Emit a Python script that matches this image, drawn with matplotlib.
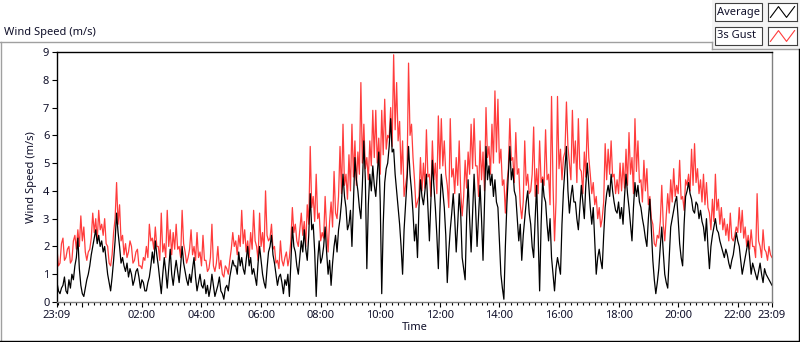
import numpy as np
import pandas as pd
import matplotlib
matplotlib.use('Agg')
import matplotlib.pyplot as plt
import matplotlib.dates as mdates
from matplotlib.lines import Line2D
from matplotlib.patches import Rectangle

W, H = 800, 342
START = '2024-06-01 23:09'
STEP = '3min'

# 3 s gust (m/s), one row per hour after 23:09
gust = [
    1.9, 1.3, 1.4, 2.1, 2.3, 1.5, 1.6, 1.9, 2.0, 1.4, 1.5, 2.2, 2.4, 1.9, 2.6, 2.0, 3.1, 2.2, 2.7, 1.8,
    1.5, 1.8, 1.9, 2.3, 3.2, 2.5, 3.0, 2.2, 3.3, 2.6, 2.8, 2.4, 3.0, 2.1, 2.0, 1.4, 1.3, 1.7, 2.5, 3.0,
    4.3, 2.8, 3.5, 2.2, 2.4, 1.7, 2.1, 1.6, 1.8, 2.2, 2.0, 1.4, 1.5, 1.8, 1.9, 1.3, 1.3, 1.2, 1.6, 1.5,
    2.0, 1.6, 2.8, 2.2, 2.3, 1.9, 2.7, 2.0, 2.0, 1.5, 3.2, 1.8, 2.1, 1.6, 3.3, 2.0, 2.6, 1.7, 2.5, 1.9,
    2.8, 1.9, 2.0, 1.6, 3.3, 2.1, 1.8, 1.4, 1.6, 1.9, 2.6, 1.7, 2.0, 1.5, 2.5, 1.6, 1.8, 1.3, 2.4, 1.5,
    1.5, 1.1, 1.2, 1.6, 2.8, 1.3, 1.1, 1.4, 2.0, 1.2, 1.5, 1.0, 0.9, 1.3, 1.2, 1.0, 1.5, 1.9, 2.5, 2.0,
    2.2, 1.7, 2.4, 2.0, 3.3, 2.1, 2.6, 1.8, 2.2, 1.6, 2.5, 1.9, 3.3, 2.2, 2.0, 1.5, 3.2, 2.0, 2.5, 1.8,
    4.0, 2.4, 2.2, 2.3, 2.8, 1.9, 2.0, 1.4, 1.5, 1.2, 2.2, 1.5, 1.3, 1.6, 1.8, 1.3, 1.6, 2.2, 3.4, 2.5,
    2.8, 2.2, 2.0, 2.6, 3.2, 2.4, 2.9, 2.0, 3.5, 2.8, 5.6, 3.4, 3.8, 2.9, 4.6, 3.0, 3.2, 2.2, 2.5, 2.3,
    3.8, 2.6, 1.8, 2.9, 3.6, 2.7, 4.7, 3.2, 3.0, 3.8, 5.6, 3.9, 6.4, 4.2, 4.6, 3.7, 5.3, 4.0, 6.4, 4.5,
    5.8, 4.2, 5.4, 4.6, 7.9, 5.0, 6.4, 4.8, 5.2, 4.4, 5.8, 4.9, 6.9, 5.2, 6.9, 5.0, 5.9, 4.6, 6.9, 5.3,
    7.3, 5.5, 6.0, 5.9, 7.0, 5.6, 8.9, 6.2, 7.9, 5.8, 6.5, 4.6, 5.8, 3.8, 4.2, 4.6, 8.6, 6.0, 6.4, 5.2,
    4.4, 3.4, 3.6, 3.8, 5.2, 4.0, 5.0, 4.1, 6.2, 4.5, 4.6, 3.8, 5.8, 4.4, 5.0, 3.9, 6.7, 4.8, 6.6, 4.9,
    5.8, 4.6, 4.2, 3.4, 6.6, 4.5, 4.8, 3.9, 5.2, 4.2, 5.8, 4.0, 3.1, 3.8, 5.1, 4.1, 5.4, 4.6, 6.4, 4.8,
    6.6, 4.9, 4.9, 3.8, 5.8, 4.4, 5.4, 4.0, 7.0, 5.2, 5.6, 4.6, 6.4, 5.0, 7.6, 5.4, 7.3, 5.0, 5.5, 4.2,
    4.4, 3.2, 4.2, 4.8, 6.6, 5.1, 5.2, 4.3, 6.1, 4.6, 4.8, 3.5, 3.0, 3.6, 5.8, 4.2, 4.6, 3.9, 4.0, 4.6,
    6.3, 3.8, 4.8, 3.9, 5.8, 4.3, 4.5, 4.2, 6.2, 4.4, 4.6, 3.5, 7.4, 4.2, 2.2, 3.6, 7.4, 4.8, 5.5, 4.4,
    5.2, 5.4, 7.2, 5.6, 5.0, 4.4, 6.9, 5.0, 5.8, 4.3, 6.6, 4.8, 4.7, 3.9, 5.4, 4.5, 6.6, 5.2, 4.6, 3.9,
    4.3, 3.5, 3.8, 3.0, 3.4, 2.7, 3.0, 3.6, 5.7, 4.4, 5.5, 4.6, 5.8, 4.5, 4.6, 3.9, 4.4, 3.9, 5.0, 4.0,
    5.0, 4.1, 5.5, 4.2, 6.1, 4.6, 5.2, 3.9, 6.6, 4.7, 5.8, 4.3, 4.4, 3.6, 5.1, 4.0, 4.8, 3.5, 3.8, 3.0,
    2.8, 2.1, 2.0, 2.4, 2.3, 2.9, 4.2, 2.8, 2.2, 3.1, 3.9, 3.2, 4.4, 3.6, 4.8, 3.8, 4.2, 3.9, 5.1, 3.7,
    3.8, 3.3, 4.4, 4.2, 4.6, 4.0, 5.5, 4.2, 5.7, 4.3, 4.8, 3.9, 4.4, 3.6, 4.6, 3.5, 4.3, 3.4, 3.2, 2.6,
    3.7, 2.9, 4.6, 3.3, 3.7, 2.8, 3.4, 2.6, 3.0, 2.4, 2.8, 2.2, 3.2, 2.3, 2.2, 2.4, 2.7, 2.5, 3.4, 2.5,
    3.3, 2.3, 2.7, 2.0, 2.4, 1.9, 2.6, 2.0, 2.0, 1.6, 3.9, 2.2, 2.0, 1.6, 2.6, 1.9, 1.8, 1.5, 2.0, 1.7,
    1.6,
]

# average wind speed (m/s), same time base
average = [
    0.7, 0.4, 0.3, 0.5, 0.6, 0.9, 0.4, 0.3, 0.8, 0.5, 1.0, 0.8, 1.3, 1.6, 2.3, 1.2, 0.6, 0.3, 0.2, 0.5,
    0.8, 1.0, 1.3, 1.7, 2.0, 2.3, 2.6, 2.1, 2.4, 2.0, 2.2, 1.8, 2.0, 1.5, 1.0, 0.7, 0.4, 0.9, 1.5, 2.2,
    3.2, 2.5, 2.0, 1.4, 1.6, 1.3, 1.1, 1.4, 0.9, 1.2, 1.0, 0.6, 0.8, 1.1, 1.2, 0.9, 0.5, 0.8, 0.7, 0.4,
    0.4, 0.7, 0.9, 1.3, 1.8, 1.4, 2.2, 1.7, 1.3, 0.8, 0.3, 1.0, 1.6, 1.1, 0.5, 1.2, 1.9, 1.0, 0.6, 1.1,
    1.5, 1.1, 0.7, 1.3, 2.0, 1.4, 1.1, 0.8, 0.6, 1.0, 0.7, 1.2, 1.6, 0.9, 0.4, 0.7, 1.0, 0.6, 0.5, 0.8,
    0.3, 0.6, 0.2, 0.5, 1.0, 0.6, 0.2, 0.4, 0.6, 0.9, 0.4, 0.3, 0.1, 0.5, 0.6, 0.4, 0.9, 1.2, 1.5, 1.3,
    1.3, 1.0, 1.8, 1.3, 1.6, 1.2, 1.0, 1.5, 2.0, 1.3, 1.6, 1.0, 1.2, 0.9, 0.6, 1.4, 2.0, 1.5, 1.0, 0.7,
    0.5, 1.2, 1.8, 2.0, 2.4, 1.7, 1.4, 1.0, 0.6, 0.9, 1.0, 0.7, 0.3, 0.8, 0.6, 1.0, 0.2, 1.4, 2.7, 2.0,
    1.8, 1.3, 1.0, 1.6, 2.2, 1.8, 2.6, 1.9, 1.5, 2.4, 3.9, 2.6, 2.8, 1.8, 0.2, 1.5, 2.2, 1.4, 1.6, 2.0,
    2.7, 1.8, 1.0, 1.5, 0.6, 1.4, 2.0, 2.4, 1.8, 2.6, 3.0, 3.6, 4.6, 3.8, 3.4, 2.6, 2.8, 3.3, 2.0, 3.6,
    5.2, 4.4, 4.0, 3.4, 3.0, 4.2, 5.8, 4.4, 1.2, 3.5, 4.6, 4.0, 4.9, 4.2, 3.8, 4.6, 5.4, 3.6, 0.3, 2.8,
    4.3, 4.8, 5.0, 5.6, 6.6, 5.4, 5.5, 4.6, 4.0, 3.4, 2.8, 2.0, 1.0, 2.6, 3.5, 4.4, 5.6, 4.6, 4.0, 3.2,
    2.2, 2.8, 1.6, 3.4, 4.4, 3.8, 3.5, 4.0, 4.6, 3.4, 2.2, 3.6, 5.1, 4.2, 3.4, 2.4, 1.2, 3.2, 4.6, 4.0,
    3.4, 2.4, 0.7, 1.8, 2.6, 3.2, 3.9, 3.0, 1.8, 2.8, 3.9, 3.2, 1.6, 1.2, 0.8, 3.0, 4.4, 3.0, 1.8, 3.2,
    4.6, 3.4, 2.0, 3.1, 4.2, 3.0, 1.5, 3.6, 5.6, 4.4, 4.9, 4.2, 4.6, 3.8, 4.4, 3.6, 3.4, 2.2, 1.0, 0.5,
    0.1, 2.0, 3.5, 4.6, 5.6, 4.4, 4.8, 4.0, 3.8, 3.0, 2.2, 2.8, 1.5, 2.4, 3.0, 3.6, 4.0, 3.2, 2.8, 2.0,
    1.6, 3.0, 4.2, 2.4, 0.4, 2.8, 4.4, 3.8, 3.6, 2.8, 2.2, 3.0, 1.6, 1.0, 0.4, 1.2, 1.6, 1.3, 1.0, 2.8,
    4.0, 4.8, 5.6, 4.0, 3.2, 3.8, 4.2, 3.6, 3.6, 3.0, 2.6, 3.4, 4.2, 3.6, 3.0, 4.2, 5.0, 4.2, 3.4, 2.8,
    3.4, 2.2, 1.0, 1.6, 1.9, 1.5, 1.2, 2.4, 3.4, 3.9, 4.2, 3.8, 4.6, 4.0, 3.6, 3.3, 3.2, 3.6, 3.0, 3.4,
    2.8, 3.8, 4.6, 3.9, 3.4, 2.8, 2.2, 3.4, 4.3, 3.8, 4.2, 3.6, 3.4, 3.0, 2.7, 2.3, 2.0, 3.0, 3.7, 2.6,
    1.5, 0.8, 0.3, 0.7, 1.2, 2.0, 2.7, 1.8, 1.0, 0.7, 0.5, 1.6, 2.7, 3.0, 3.3, 3.6, 3.8, 3.0, 2.1, 1.6,
    1.3, 2.8, 3.8, 4.0, 4.3, 3.9, 3.7, 3.3, 3.2, 3.6, 3.5, 3.0, 3.3, 2.9, 2.7, 2.2, 3.0, 2.0, 1.2, 2.0,
    2.4, 2.7, 3.0, 2.6, 2.5, 2.2, 2.0, 1.8, 1.6, 1.9, 1.7, 1.4, 1.2, 1.5, 1.7, 2.1, 2.5, 2.2, 2.0, 1.5,
    1.0, 1.3, 1.6, 1.9, 2.2, 1.6, 1.0, 1.4, 1.2, 1.0, 0.8, 1.1, 1.4, 1.0, 0.7, 1.2, 1.0, 0.9, 0.8, 0.7,
    0.6,
]

y_ticks = [0, 1, 2, 3, 4, 5, 6, 7, 8, 9]
legend_labels = ['Average', '3s Gust']
legend_colors = ['#000000', '#ff3c3c']

plt.rcParams['font.family'] = ['Noto Sans', 'DejaVu Sans']
TXT = '#10102a'


def fx(px):
    return px / W


def fy(py):
    return 1 - py / H


times = pd.date_range(START, periods=len(gust), freq=STEP)
t0, t1 = times[0], times[-1]

fig = plt.figure(figsize=(W / 100, H / 100), dpi=100)
ax = fig.add_axes([fx(57), fy(302), fx(772) - fx(57), fy(52) - fy(302)])

ax.plot(times, gust, color=legend_colors[1], lw=0.9)
ax.plot(times, average, color=legend_colors[0], lw=0.9)

ax.set_xlim(t0, t1)
ax.set_ylim(0, 9)
ax.set_yticks(y_ticks)

# major ticks every even hour, ends labelled with the start time
even_hours = pd.date_range(t0.ceil('2h'), t1, freq='2h')
major = [t0] + list(even_hours) + [t1]
labels = [t0.strftime('%H:%M')] + [
    '' if h == even_hours[0] else h.strftime('%H:%M') for h in even_hours
] + [t1.strftime('%H:%M')]
ax.set_xticks(major)
ax.set_xticklabels(labels)
ax.xaxis.set_minor_locator(mdates.MinuteLocator(byminute=[0, 12, 24, 36, 48]))

ax.tick_params(axis='both', which='major', direction='out', length=3.5,
               width=0.8, labelsize=8, labelcolor=TXT, pad=2)
ax.tick_params(axis='x', which='minor', direction='out', length=2, width=0.8)

for side in ['top', 'left']:
    ax.spines[side].set_color('black')
for side in ['bottom', 'right']:
    ax.spines[side].set_color('#808080')
for s in ax.spines.values():
    s.set_linewidth(1)

ax.set_xlabel('Time', fontsize=8, color=TXT, labelpad=1)
ax.set_ylabel('Wind Speed (m/s)', fontsize=8, color=TXT, labelpad=4)

fig.text(fx(4), fy(32), 'Wind Speed (m/s)', fontsize=8, color=TXT,
         ha='left', va='center')

# outer sunken frame and legend panel
gray = '#a0a0a0'
fig.add_artist(Rectangle((fx(712), fy(49)), 1 - fx(712), fy(0) - fy(49),
                         transform=fig.transFigure, facecolor='#f4f4f4',
                         edgecolor='none', zorder=0))
frame = [
    ([0, 712], [42, 42], gray), ([712, 712], [42, 49], gray),
    ([712, 800], [49, 49], gray), ([0.5, 0.5], [42, 341], gray),
    ([0, 800], [340.5, 340.5], 'black'), ([799, 799], [49, 341], 'black'),
]
for xs, ys, c in frame:
    fig.add_artist(Line2D([fx(x) for x in xs], [fy(y) for y in ys],
                          transform=fig.transFigure, color=c, lw=1))

rows = [3, 27]
for top, lab, col in zip(rows, legend_labels, legend_colors):
    fig.add_artist(Rectangle((fx(715), fy(top + 18)), fx(762) - fx(715),
                             fy(top) - fy(top + 18), transform=fig.transFigure,
                             facecolor='white', edgecolor='#404040', lw=0.8))
    fig.text(fx(717), fy(top + 9), lab, fontsize=8, color=TXT,
             ha='left', va='center')
    sample = fig.add_axes([fx(768), fy(top + 18), fx(797) - fx(768),
                           fy(top) - fy(top + 18)])
    sample.plot([0, 1, 2, 3], [0.2, 0.8, 0.2, 0.8], color=col, lw=0.8)
    sample.set_xlim(-0.3, 3.3)
    sample.set_ylim(0, 1)
    sample.set_xticks([])
    sample.set_yticks([])
    for s in sample.spines.values():
        s.set_color('#404040')
        s.set_linewidth(0.8)

fig.savefig('out.png', dpi=100)
